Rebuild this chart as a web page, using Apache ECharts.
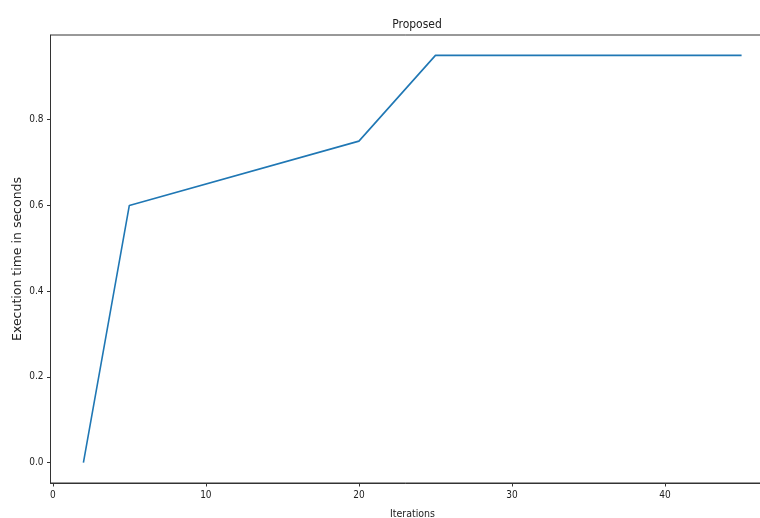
<!DOCTYPE html>
<html><head><meta charset="utf-8">
<script src="https://cdn.jsdelivr.net/npm/echarts@6/dist/echarts.min.js"></script>
<style>html,body{margin:0;padding:0;background:#fff}#c{width:760px;height:518px}</style>
</head><body><div id="c"></div>
<script>
const iterations = [2, 5, 20, 25, 45];
const execTime = [0.0, 0.6, 0.75, 0.95, 0.95];
const xTicks = [0, 10, 20, 30, 40];
const yTicks = [0.0, 0.2, 0.4, 0.6, 0.8];

const chart = echarts.init(document.getElementById('c'), null, {renderer: 'canvas'});
const cond = 'DejaVu Sans Condensed';
chart.setOption({
  animation: false,
  backgroundColor: '#fff',
  title: {
    text: 'Proposed', left: 412, top: 14, textAlign: 'center',
    textStyle: {fontFamily: cond, fontSize: 12, fontWeight: 'normal', color: '#222'}
  },
  grid: {left: 50.5, top: 35, width: 724, height: 448, show: true, borderColor: '#333', borderWidth: 1, containLabel: false, outerBoundsMode: 'none'},
  xAxis: {
    type: 'value', min: -0.15, max: 47.15,
    name: 'Iterations', nameLocation: 'middle', nameGap: 26, nameMoveOverlap: false,
    nameTextStyle: {fontFamily: cond, fontSize: 10.5, color: '#222'},
    axisLine: {show: true, onZero: false, lineStyle: {color: '#333', width: 1}},
    axisTick: {show: true, customValues: xTicks, length: 3.5, lineStyle: {color: '#333'}},
    axisLabel: {customValues: xTicks, fontFamily: cond, fontSize: 10, color: '#222', margin: 7},
    splitLine: {show: false}
  },
  yAxis: {
    type: 'value', min: -0.0475, max: 0.9975,
    name: 'Execution time in seconds', nameLocation: 'middle', nameGap: 26, nameMoveOverlap: false,
    nameTextStyle: {fontFamily: 'DejaVu Sans', fontSize: 12.5, color: '#222'},
    axisLine: {show: true, onZero: false, lineStyle: {color: '#333', width: 1}},
    axisTick: {show: true, customValues: yTicks, length: 3.5, lineStyle: {color: '#333'}},
    axisLabel: {customValues: yTicks, formatter: v => v.toFixed(1), fontFamily: cond, fontSize: 10, color: '#222', margin: 7},
    splitLine: {show: false}
  },
  series: [{
    type: 'line',
    data: iterations.map((x, i) => [x, execTime[i]]),
    showSymbol: false,
    clip: false,
    lineStyle: {color: '#1f77b4', width: 1.6},
    itemStyle: {color: '#1f77b4'}
  }]
});
</script></body></html>
